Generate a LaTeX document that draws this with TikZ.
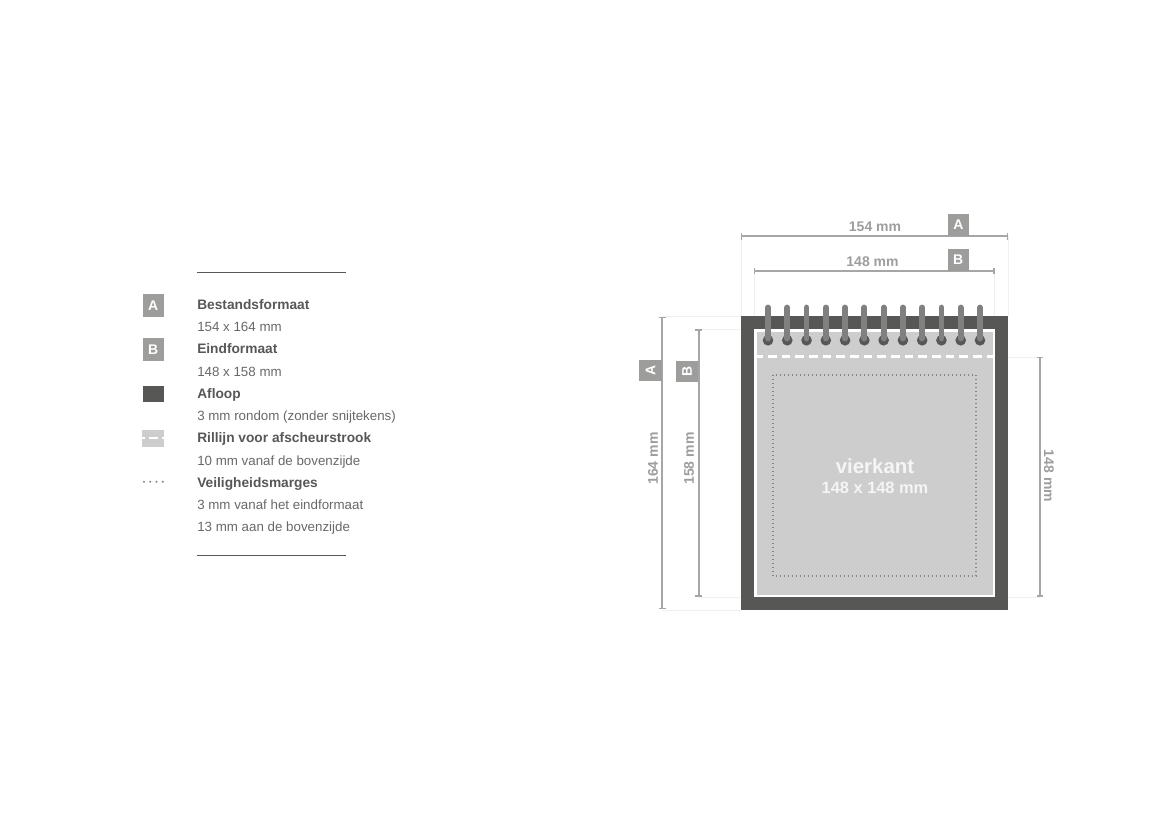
\documentclass[tikz,border=0pt]{standalone}
\usepackage{fontspec}
\setmainfont{Liberation Sans}
\usetikzlibrary{arrows.meta}
\definecolor{bleedgray}{HTML}{575756}
\definecolor{sheetgray}{HTML}{CDCDCD}
\definecolor{dimgray}{HTML}{9D9D9C}
\definecolor{linegray}{HTML}{A6A6A6}
\definecolor{ringgray}{HTML}{808080}
\definecolor{dotgray}{HTML}{858585}
\definecolor{faintgray}{HTML}{F0F0F0}
\tikzset{
  badge/.style={fill=dimgray,text=white,font=\fontsize{10.5pt}{12pt}\selectfont\bfseries,inner sep=0pt,minimum width=16pt,minimum height=17pt},
  dimline/.style={linegray,line width=1.4pt,{Bar[width=5pt,line width=1pt]}-{Bar[width=5pt,line width=1pt]}},
  dimtext/.style={text=dimgray,font=\fontsize{10.5pt}{12pt}\selectfont\bfseries,inner sep=0pt},
  helper/.style={faintgray,line width=.6pt},
  legendhead/.style={anchor=mid west,inner sep=0pt,text=bleedgray,font=\fontsize{10.3pt}{12pt}\selectfont\bfseries},
  legendtext/.style={anchor=mid west,inner sep=0pt,text=bleedgray!90,font=\fontsize{10pt}{12pt}\selectfont},
  legendrule/.style={bleedgray,line width=1pt},
  safety/.style={dotgray,line width=1.5pt,dash pattern=on 1.1pt off 1.9pt},
  legenddots/.style={dotgray,line width=1.7pt,line cap=round,dash pattern=on 0pt off 4.7pt},
  sqtext/.style={inner sep=0pt,text=white!96!black},
}
\begin{document}
\begin{tikzpicture}
    [x=.75pt,y=-.75pt]
    \useasboundingbox (0,0) rectangle (1169,827);

    % legend rules:
    \coordinate (rta) at (197,272.3);
    \coordinate (rtb) at (346,272.3);
    \coordinate (rba) at (197,555.5);
    \coordinate (rbb) at (346,555.5);
    \draw [legendrule] (rta) -- (rtb);
    \draw [legendrule] (rba) -- (rbb);

    % legend swatches:
    \node (swa) at (153.2,305.2) [badge] {A};
    \node (swb) at (153.2,349.7) [badge] {B};
    \fill [bleedgray] (142.5,386) rectangle (164,402);
    \fill [sheetgray] (142,430) rectangle (164,446.5);
    \fill [white] (149,437) rectangle (158,439.4);
    \fill [white] (142,437) rectangle (144.5,439.4);
    \fill [white] (161.5,437) rectangle (164,439.4);
    \coordinate (sda) at (144,481.7);
    \coordinate (sdb) at (164,481.7);
    \draw [legenddots] (sda) -- (sdb);

    % legend texts:
    \node (l1) at (197,305.7) [legendhead] {Bestandsformaat};
    \node (l2) at (197,328.1) [legendtext] {154 x 164 mm};
    \node (l3) at (197,350.2) [legendhead] {Eindformaat};
    \node (l4) at (197,372.6) [legendtext] {148 x 158 mm};
    \node (l5) at (197,394.7) [legendhead] {Afloop};
    \node (l6) at (197,417.1) [legendtext] {3 mm rondom (zonder snijtekens)};
    \node (l7) at (197,439.2) [legendhead] {Rillijn voor afscheurstrook};
    \node (l8) at (197,461.6) [legendtext] {10 mm vanaf de bovenzijde};
    \node (l9) at (197,483.6) [legendhead] {Veiligheidsmarges};
    \node (l10) at (197,506.1) [legendtext] {3 mm vanaf het eindformaat};
    \node (l11) at (197,528.3) [legendtext] {13 mm aan de bovenzijde};

    % helper lines:
    \draw [helper] (741,236) -- (741,316);
    \draw [helper] (754.5,271) -- (754.5,316);
    \draw [helper] (994.5,271) -- (994.5,316);
    \draw [helper] (1008,236) -- (1008,316);
    \draw [helper] (662,316.5) -- (741,316.5);
    \draw [helper] (699,329.5) -- (741,329.5);
    \draw [helper] (699,597) -- (741,597);
    \draw [helper] (662,610) -- (741,610);
    \draw [helper] (1008,357) -- (1040,357);
    \draw [helper] (1008,597) -- (1040,597);

    % calendar:
    \fill [bleedgray] (741,316) rectangle (1008,610);
    \fill [white] (754,329) rectangle (995,597);
    \fill [sheetgray] (756.7,331.5) rectangle (993,594.5);
    \draw [white,line width=2.4pt,dash pattern=on 6.5pt off 3.75pt] (754.3,356.8) -- (995,356.8);
    \draw [safety] (773.3,374.5) rectangle (975.5,576.3);

    % spiral:
    \foreach \i in {0,...,11} {
      \fill [bleedgray] (768+19.27*\i,340.3) circle (5.3);
      \draw [ringgray,line width=4.3pt,line cap=round] (768+19.27*\i,307.5) -- (768+19.27*\i,338.5);
    }

    % center text:
    \node (sqname) at (875,466) [sqtext,font=\fontsize{15.3pt}{18pt}\selectfont\bfseries] {vierkant};
    \node (sqsize) at (875,488) [sqtext,font=\fontsize{12.3pt}{14pt}\selectfont\bfseries] {148 x 148 mm};

    % top dimensions:
    \coordinate (ta1) at (741,236.3);
    \coordinate (ta2) at (1008,236.3);
    \coordinate (tb1) at (754,271);
    \coordinate (tb2) at (994.5,271);
    \draw [dimline] (ta1) -- (ta2);
    \draw [dimline] (tb1) -- (tb2);
    \node (tatext) at (875,227) [dimtext] {154 mm};
    \node (tbtext) at (872.5,262) [dimtext] {148 mm};
    \node (tabox) at (958.5,225) [badge] {A};
    \node (tbbox) at (958.2,260) [badge] {B};

    % left dimensions:
    \coordinate (la1) at (662.3,317);
    \coordinate (la2) at (662.3,609.3);
    \coordinate (lb1) at (698.7,329.3);
    \coordinate (lb2) at (698.7,596.7);
    \draw [dimline] (la1) -- (la2);
    \draw [dimline] (lb1) -- (lb2);
    \node (latext) at (653,458.5) [dimtext,rotate=90] {164 mm};
    \node (lbtext) at (689,458.5) [dimtext,rotate=90] {158 mm};
    \node (labox) at (650.5,370.5) [badge,rotate=90] {A};
    \node (lbbox) at (687,371.3) [badge,rotate=90] {B};

    % right dimension:
    \coordinate (rc1) at (1040,357);
    \coordinate (rc2) at (1040,596.7);
    \draw [dimline] (rc1) -- (rc2);
    \node (rctext) at (1049,476) [dimtext,rotate=-90] {148 mm};

\end{tikzpicture}
\end{document}
